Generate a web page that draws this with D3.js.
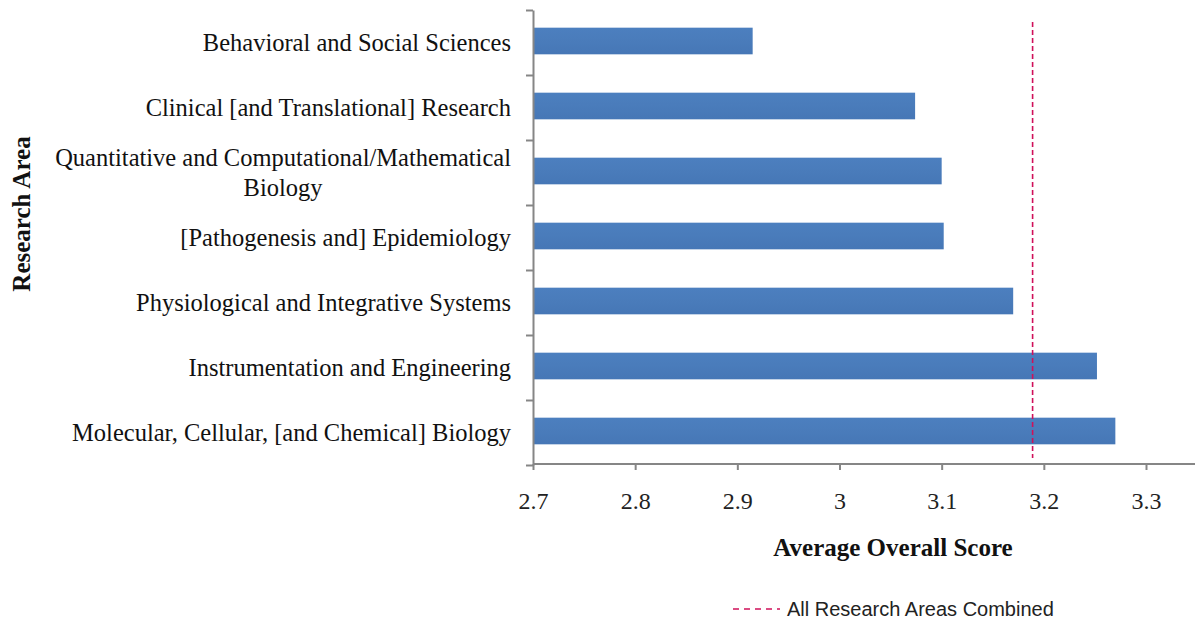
<!DOCTYPE html>
<html>
<head>
<meta charset="utf-8">
<script src="https://cdn.jsdelivr.net/npm/d3@7"></script>
<style>
  body { margin: 0; background: #fff; }
  svg { display: block; }
</style>
</head>
<body>
<div id="root"></div>
<script>
// categories top to bottom
const areas = [
  ["Behavioral and Social Sciences"],
  ["Clinical [and Translational] Research"],
  ["Quantitative and Computational/Mathematical", "Biology"],
  ["[Pathogenesis and] Epidemiology"],
  ["Physiological and Integrative Systems"],
  ["Instrumentation and Engineering"],
  ["Molecular, Cellular, [and Chemical] Biology"]
];
const scores = [2.915, 3.074, 3.100, 3.102, 3.170, 3.252, 3.270];
const combined = 3.189;
const xTicks = [2.7, 2.8, 2.9, 3, 3.1, 3.2, 3.3];

const width = 1195;
const height = 622;
const serif = "'Liberation Serif', 'Times New Roman', serif";
const labelSize = 24.5;

const svg = d3.select("#root")
  .append("svg")
  .attr("width", width)
  .attr("height", height);

const x = d3.scaleLinear().domain([2.7, 3.3]).range([533, 1146]);
const axisEnd = 1195;

const y = d3.scaleBand()
  .domain(d3.range(areas.length))
  .range([10, 465])
  .paddingInner(0)
  .paddingOuter(0);

const yEdges = d3.scaleLinear().domain([0, areas.length]).range([10, 465]);

// bars
svg.append("defs").append("linearGradient")
  .attr("id", "barFill")
  .attr("x1", 0).attr("y1", 0).attr("x2", 0).attr("y2", 1)
  .selectAll("stop")
  .data([["0%", "#4c7fbf"], ["45%", "#4a7cbb"], ["100%", "#4677b6"]])
  .join("stop")
    .attr("offset", d => d[0])
    .attr("stop-color", d => d[1]);

const barH = y.bandwidth() * 0.41;
svg.selectAll("rect.bar")
  .data(scores)
  .join("rect")
    .attr("class", "bar")
    .attr("x", x(2.7))
    .attr("y", (d, i) => y(i) + y.bandwidth() / 2 - barH / 2 - 1.5)
    .attr("width", d => x(d) - x(2.7))
    .attr("height", barH)
    .attr("fill", "url(#barFill)");

// x axis
const xAxis = svg.append("g")
  .attr("transform", `translate(0,464)`)
  .call(d3.axisBottom(x).tickValues(xTicks).tickFormat(d3.format("")).tickSize(6).tickPadding(22).tickSizeOuter(0));
xAxis.select(".domain").attr("d", `M${x(2.7)},0H${axisEnd}`);
xAxis.selectAll("path, line").attr("stroke", "#868686").attr("stroke-width", 2);
xAxis.selectAll("text")
  .attr("font-family", serif)
  .attr("font-size", 24)
  .attr("fill", "#222");

// y axis with ticks at band edges
const yAxis = svg.append("g")
  .attr("transform", `translate(${x(2.7)},0)`)
  .call(d3.axisLeft(yEdges).tickValues(d3.range(areas.length + 1)).tickFormat("").tickSize(7).tickSizeOuter(0));
yAxis.selectAll("path, line").attr("stroke", "#868686").attr("stroke-width", 2);

// category labels
const labelX = 511;
areas.forEach((lines, i) => {
  const cy = y(i) + y.bandwidth() / 2;
  if (lines.length === 1) {
    svg.append("text")
      .attr("x", labelX)
      .attr("y", cy)
      .attr("dy", "0.33em")
      .attr("text-anchor", "end")
      .attr("font-family", serif)
      .attr("font-size", labelSize)
      .attr("fill", "#111")
      .text(lines[0]);
  } else {
    const first = svg.append("text")
      .attr("x", labelX)
      .attr("y", cy - 15)
      .attr("dy", "0.33em")
      .attr("text-anchor", "end")
      .attr("font-family", serif)
      .attr("font-size", labelSize)
      .attr("fill", "#111")
      .text(lines[0]);
    const w = first.node().getComputedTextLength();
    svg.append("text")
      .attr("x", labelX - w / 2)
      .attr("y", cy + 15)
      .attr("dy", "0.33em")
      .attr("text-anchor", "middle")
      .attr("font-family", serif)
      .attr("font-size", labelSize)
      .attr("fill", "#111")
      .text(lines[1]);
  }
});

// combined reference line
svg.append("line")
  .attr("x1", x(combined)).attr("x2", x(combined))
  .attr("y1", 22).attr("y2", 458)
  .attr("stroke", "#d0105a")
  .attr("stroke-width", 1.6)
  .attr("stroke-dasharray", "5,3");

// axis titles
svg.append("text")
  .attr("x", 893)
  .attr("y", 548)
  .attr("dy", "0.33em")
  .attr("text-anchor", "middle")
  .attr("font-family", serif)
  .attr("font-size", 25)
  .attr("font-weight", "bold")
  .attr("fill", "#111")
  .text("Average Overall Score");

svg.append("text")
  .attr("transform", "translate(22,214) rotate(-90)")
  .attr("dy", "0.33em")
  .attr("text-anchor", "middle")
  .attr("font-family", serif)
  .attr("font-size", 25)
  .attr("font-weight", "bold")
  .attr("fill", "#111")
  .text("Research Area");

// legend
const legend = svg.append("g").attr("transform", "translate(733,609)");
legend.append("line")
  .attr("x1", 0).attr("x2", 47)
  .attr("y1", 0).attr("y2", 0)
  .attr("stroke", "#d0105a")
  .attr("stroke-width", 1.6)
  .attr("stroke-dasharray", "6,5");
legend.append("text")
  .attr("x", 54)
  .attr("y", 0)
  .attr("dy", "0.35em")
  .attr("font-family", "'Liberation Sans', Arial, sans-serif")
  .attr("font-size", 20)
  .attr("fill", "#222")
  .text("All Research Areas Combined");
</script>
</body>
</html>
